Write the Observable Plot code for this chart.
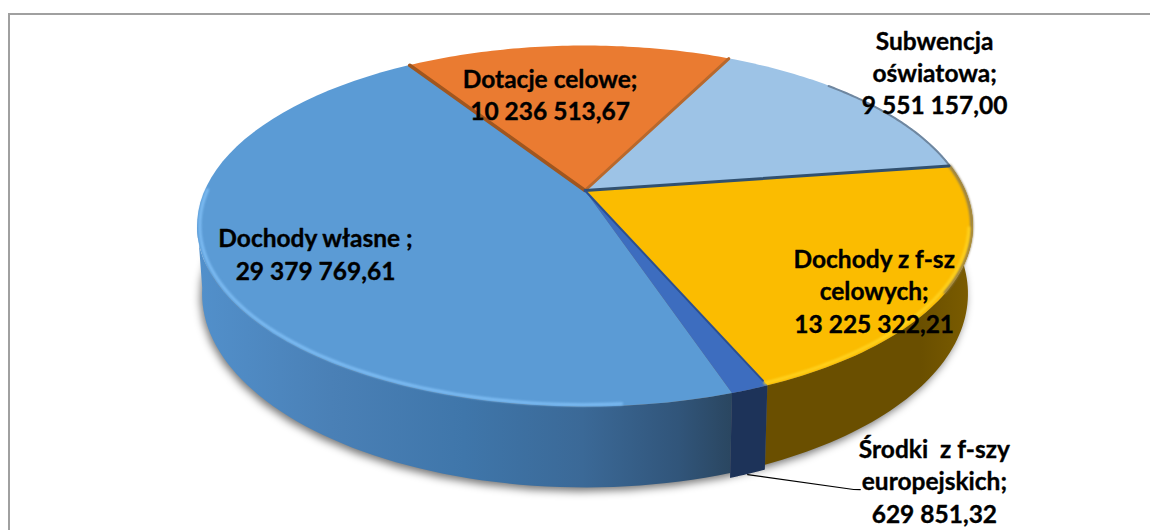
<!DOCTYPE html>
<html><head><meta charset="utf-8">
<script src="https://cdn.jsdelivr.net/npm/d3@7"></script>
<script src="https://cdn.jsdelivr.net/npm/@observablehq/plot@0.6"></script>
<style>
html,body{margin:0;padding:0;background:#fff;overflow:hidden}
#frame{position:absolute;left:8px;top:13px;right:0;bottom:0;border-left:2px solid #a0a0a0;border-top:2px solid #a0a0a0}
#chart{position:absolute;left:0;top:0}
svg{background:transparent!important}
</style></head><body>
<div id="frame"></div><div id="chart"></div>
<script>
const names = ["Dochody własne ;","Dotacje celowe;","Subwencja\noświatowa;","Dochody z f-sz\ncelowych;","Środki  z f-szy\neuropejskich;"];
const values = [29379769.61,10236513.67,9551157.00,13225322.21,629851.32];

// look of the 3D pie
const topColors = ["#5b9bd5","#ea7b31","#9dc3e6","#fbbc00","#3d6dbf"];
const sideColors = ["url(#sideBlue)","#8f4c1c","#5f7d9c","url(#sideGold)","#1d3359"];
const firstAngle = 161, minShare = 0.0135;
const labelAngle = [241.5,-9.3,54.2,127.6,150.85], labelRadius = [.7517,.5974,1.2945,.868,1.448];
const W = 1150, H = 530;
const cam = {cx:584.5, cy:190, R:380.4, H:173.5, k:.1968, D:65, shrink:.0002, skew:.9};

const rad = d => d*Math.PI/180;
const project = (deg0, rho=1, z=0) => {
  const deg = deg0+cam.skew*Math.cos(rad(deg0-120));
  const u = rho*Math.sin(rad(deg)), v = rho*Math.cos(rad(deg)), w = 1+cam.k*v;
  return {x: cam.cx+cam.R*u/w*(1-cam.shrink*z), y: cam.cy-(cam.H*v-z)/w};
};
const arc = (a0,a1,rho=1,z=0) => d3.range(0,61).map(i => project(a0+(a1-a0)*i/60,rho,z));
const total = d3.sum(values);
const weights = values.map(v => Math.max(v/total,minShare));
const wTotal = d3.sum(weights);
let acc = firstAngle;
const slices = values.map((v,i) => {
  const a0 = acc; acc += weights[i]/wTotal*360;
  return {i,a0,a1:acc};
});
const fmt = v => {
  const [a,b] = v.toFixed(2).split(".");
  return a.replace(/\B(?=(\d{3})+$)/g," ")+","+b;
};
const labels = names.map((n,i) => ({...project(labelAngle[i],labelRadius[i]), text:n+"\n"+fmt(values[i])}));

const apex = {x:cam.cx,y:cam.cy};
const poly = (pts,fill,o={}) => Plot.line(pts,{x:"x",y:"y",fill,stroke:"none",curve:"linear",...o});
const edge = (pts,stroke,strokeWidth,o={}) => Plot.line(pts,{x:"x",y:"y",stroke,strokeWidth,curve:"linear",...o});
const band = (a0,a1) => [...arc(a0,a1), ...arc(a0,a1,1,cam.D).reverse()];
const wedge = s => [apex, ...arc(s.a0,s.a1)];

const defs = () => {
  const NS="http://www.w3.org/2000/svg";
  const d=document.createElementNS(NS,"defs");
  const grad=(id,stops)=>{const g=document.createElementNS(NS,"linearGradient");g.setAttribute("id",id);
    stops.forEach(([o,c])=>{const s=document.createElementNS(NS,"stop");s.setAttribute("offset",o);s.setAttribute("stop-color",c);g.appendChild(s);});d.appendChild(g);};
  grad("sideBlue",[[0,"#5290cb"],[.25,"#4a80b6"],[.5,"#3f76aa"],[.72,"#3b6997"],[.9,"#31557a"],[1,"#2a4660"]]);
  grad("sideGold",[[0,"#6a4f00"],[.75,"#6a4f00"],[1,"#7c5d00"]]);
  return d;
};

const [sW,sD,sS,sF,sE] = slices;
const chart = Plot.plot({
  width:W, height:H, margin:0,
  x:{domain:[0,W],axis:null}, y:{domain:[H,0],axis:null},
  style:{background:"transparent"},
  marks:[
    defs,
    // cast shadow of the pie
    poly(arc(0,360,1,cam.D+3).map(p=>({x:p.x-2,y:p.y})),"#000",{fillOpacity:.55,imageFilter:"blur(4px)"}),
    // sides
    poly(band(sW.a0,sW.a0+100),sideColors[0]),
    poly(band(sF.a0,sF.a1),sideColors[3]),
    poly([...arc(sE.a0,sE.a1), ...arc(sE.a0,sE.a1,1,cam.D+4).reverse()],sideColors[4]),
    // top faces
    ...slices.map(s => poly(wedge(s),topColors[s.i])),
    // bevels along the rims
    edge(arc(sW.a0+14,sW.a0+110,.993),"#7dbcf3",3,{imageFilter:"blur(1.2px)"}),
    edge(arc(sS.a0+20,sF.a0,.997),"#6f87a0",2,{imageFilter:"blur(.6px)"}),
    edge(arc(sF.a0,sF.a0+40,.997),"#8c7b50",3,{imageFilter:"blur(1px)"}),
    edge(arc(sF.a1-55,sF.a1,.99),"#ffd21f",3,{imageFilter:"blur(1px)"}),
    // bevels along the radii
    edge([apex,project(sD.a0,.998)],"#a0561f",3.5),
    edge([apex,project(sD.a1,.998)],"#b8682c",3),
    edge([apex,project(sF.a0,.995)],"#31506f",3),
    edge([apex,project(sE.a0,.98)],"#2c4f8f",2),
    // leader line of the smallest slice
    Plot.line([project((sE.a0+sE.a1)/2,1,cam.D+4.5), project(157,1.3907), project(156.5,1.396)],{x:"x",y:"y",stroke:"#000",strokeWidth:1.2}),
    // labels
    Plot.text(labels,{x:"x",y:"y",dy:-5.5,text:"text",fontFamily:"Lato",fontWeight:"bold",fontSize:24.5,lineHeight:1.32,fill:"#000",stroke:"#000",strokeWidth:.35,textAnchor:"middle"})
  ]
});
document.getElementById("chart").appendChild(chart);
</script>
</body></html>
